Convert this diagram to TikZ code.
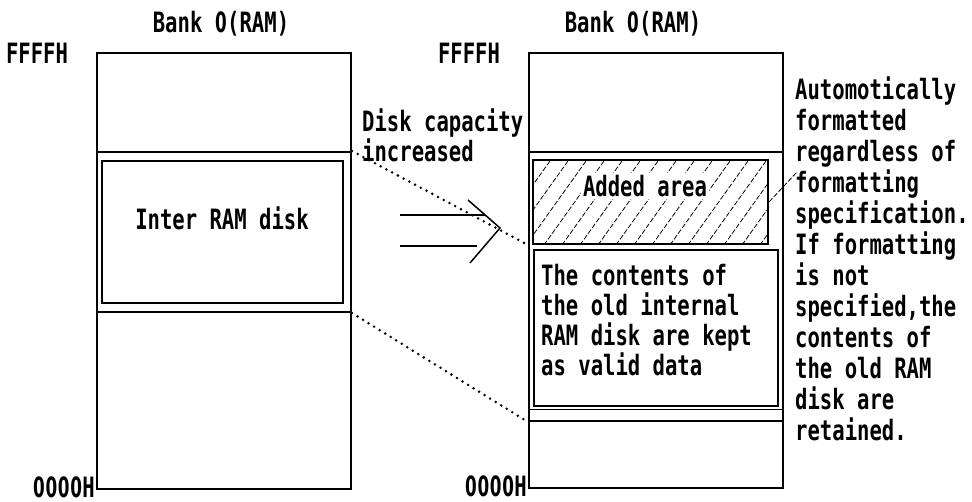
\documentclass[tikz,border=0pt]{standalone}
\usepackage{fontspec}
\newfontfamily\manfont{DejaVu Sans Mono Bold}[FakeStretch=0.735]
\newfontfamily\zerofont{DejaVu Sans Bold}[FakeStretch=0.6]
\newcommand\zr{\makebox[12.4pt]{\zerofont 0}}
\usepackage{xcolor}

\begin{document}
\begin{tikzpicture}[
    x=1pt,y=-1pt,
    bank/.style={draw,line width=2pt,minimum width=254pt,inner sep=0pt,anchor=north west},
    region/.style={draw,line width=2pt,inner sep=0pt,anchor=north west},
    txt/.style={font=\manfont\fontsize{28}{30}\selectfont,inner sep=0pt,align=left},
    note/.style={txt,font=\manfont\fontsize{28}{31}\selectfont},
    leader/.style={line width=2.8pt,line cap=round,dash pattern=on 0pt off 6.5pt},
    hatch/.style={line width=0.8pt,dash pattern=on 5pt off 2pt},
    sym/.style={line width=1.5pt}
  ]
    \path[fill=white,use as bounding box] (0,0) rectangle (972,502);

    \node[bank,minimum height=436pt] (bankL) at (96,52) {};
    \node[bank,minimum height=160pt] (ramL) at (96,151) {};
    \node[region,minimum width=241pt,minimum height=142pt] (diskL) at (101,160) {};
    \node[txt] (disktext) at (222,218) {Inter RAM disk};

    \node[bank,minimum height=435pt] (bankR) at (528,52) {};
    \node[bank,minimum height=269pt] (ramR) at (528,151) {};
    \node[region,minimum width=235pt,minimum height=84pt] (added) at (532,159) {};
    \node[region,minimum width=244pt,minimum height=156pt] (kept) at (533,249) {};
    \draw[line width=0.9pt] (ramR.west |- 0,409) -- (ramR.east |- 0,409);

    \begin{scope}
      \clip (added.south west) rectangle (added.north east);
      \foreach \x in {-60,-42,...,240}
        \draw[hatch] ([xshift=\x pt]added.south west) -- ++(60,-84);
    \end{scope}
    \node[txt,fill=white,inner sep=2pt] (addtext) at (645,186) {Added area};
    \coordinate (notept) at (797,172);
    \draw[hatch] (added.east) -- (notept);

    \node[txt,anchor=north west] (kepttext) at (541,264)
      {The contents of\\the old internal\\RAM disk are kept\\as valid data};

    \node[txt,anchor=base] (bankLlbl) at (221,33) {Bank \zr(RAM)};
    \node[txt,anchor=base] (bankRlbl) at (633,33) {Bank \zr(RAM)};
    \node[txt,anchor=base] (hiL) at (37,64) {FFFFH};
    \node[txt,anchor=base] (hiR) at (469,64) {FFFFH};
    \node[txt,anchor=base east] (loL) at (95,497) {\zr\zr\zr\zr H};
    \node[txt,anchor=base east] (loR) at (527,496) {\zr\zr\zr\zr H};

    \node[txt,anchor=north west] (captext) at (362,109) {Disk capacity\\increased};

    \node[note,anchor=north west] (notetext) at (795,77)
      {Automotically\\formatted\\regardless of\\formatting\\specification.\\If formatting\\is not\\specified,the\\contents of\\the old RAM\\disk are\\retained.};

    \coordinate (splitR) at (ramR.west |- added.south);
    \draw[leader] (ramL.north east) -- (splitR);
    \draw[leader] (ramL.south east) -- (ramR.south west);

    \draw[sym] (400,215) -- (485,215);
    \draw[sym] (400,246) -- (477,246);
    \draw[sym] (468,200) -- (500,228) -- (470,263);
  \end{tikzpicture}
\end{document}
